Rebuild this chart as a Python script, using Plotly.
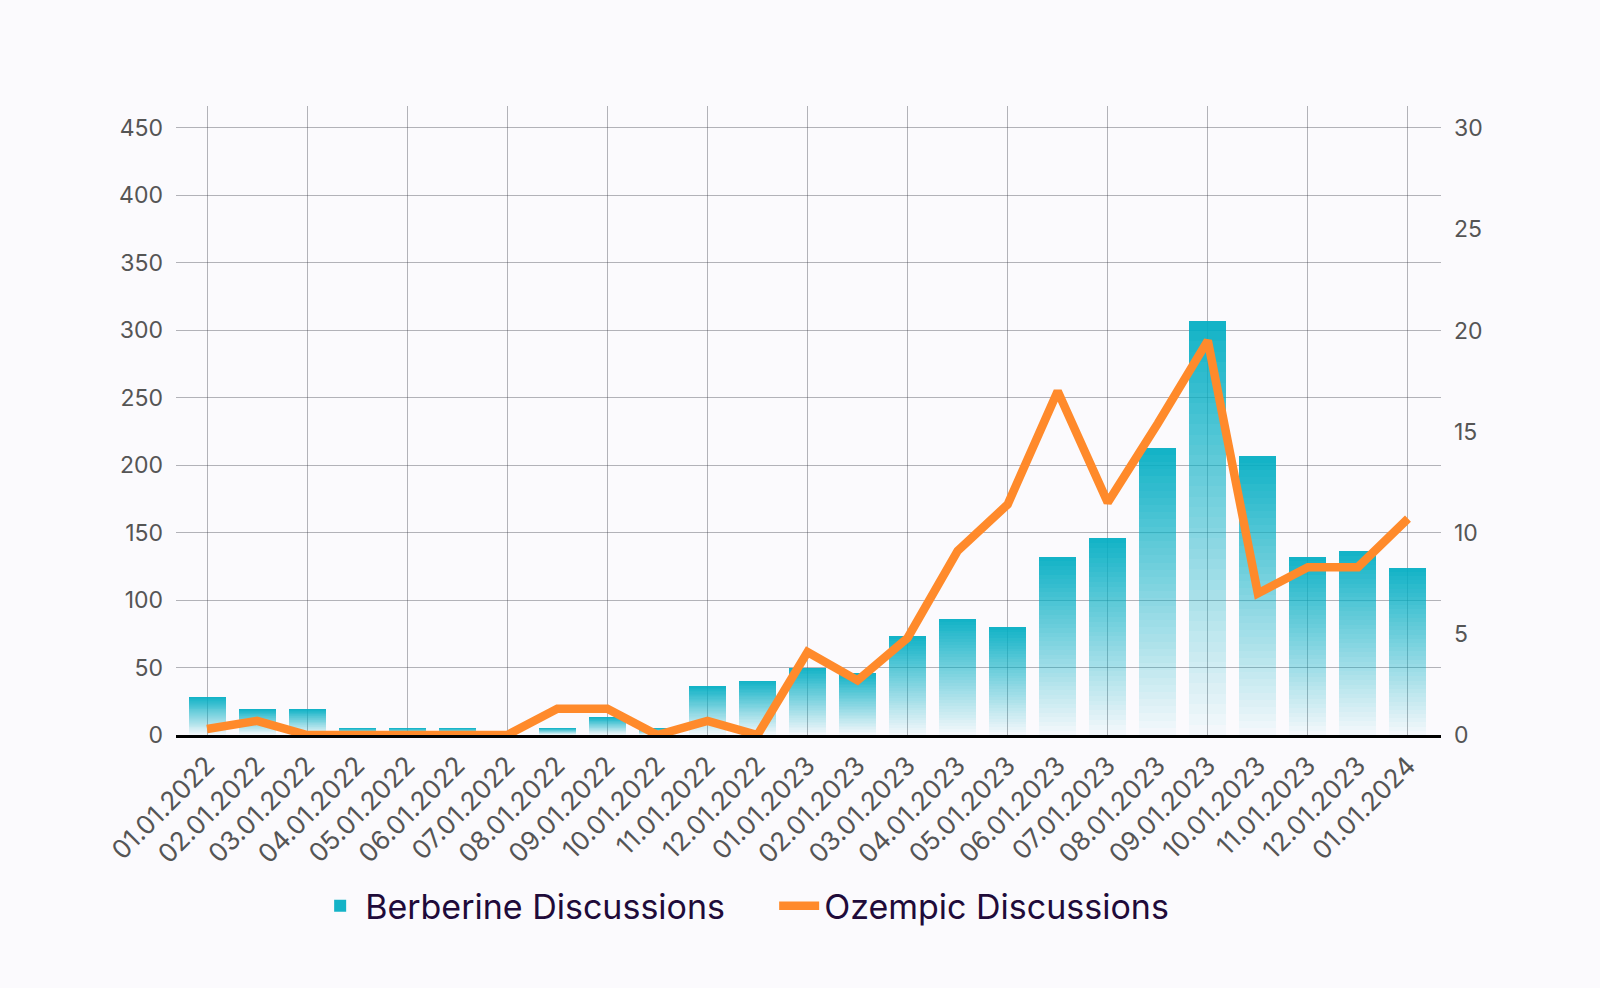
import plotly.graph_objects as go

# month labels as shown on the chart
dates = [
    "01.01.2022", "02.01.2022", "03.01.2022", "04.01.2022", "05.01.2022",
    "06.01.2022", "07.01.2022", "08.01.2022", "09.01.2022", "10.01.2022",
    "11.01.2022", "12.01.2022", "01.01.2023", "02.01.2023", "03.01.2023",
    "04.01.2023", "05.01.2023", "06.01.2023", "07.01.2023", "08.01.2023",
    "09.01.2023", "10.01.2023", "11.01.2023", "12.01.2023", "01.01.2024",
]

# left axis - bars
berberine = [28, 19, 19, 5, 5, 5, 0, 5, 13, 5, 36, 40, 50, 46, 73,
             86, 80, 132, 146, 213, 307, 207, 132, 136, 124]

# right axis - line
ozempic = [0.3, 0.7, 0, 0, 0, 0, 0, 1.3, 1.3, 0, 0.7, 0, 4.1, 2.7, 4.8,
           9.1, 11.4, 17.0, 11.5, 15.4, 19.5, 7.0, 8.3, 8.3, 10.7]

FONT = "Inter"
BG = "#fbfafd"
TEAL = (4, 174, 195)
ORANGE = "#ff8a2b"
GRID = "rgba(60,60,70,0.38)"

idx = list(range(len(dates)))
x_range = [-0.62, 24.66]

fig = go.Figure()

# bars drawn as stacked slices so each bar fades from teal (top) to white (bottom)
n_slices = 40
for k in range(n_slices):
    alpha = 0.02 + 0.93 * ((k + 0.5) / n_slices)
    fig.add_trace(go.Bar(
        x=idx,
        y=[v / n_slices for v in berberine],
        width=0.74,
        marker=dict(color="rgba(%d,%d,%d,%.3f)" % (TEAL + (alpha,)), line=dict(width=0)),
        name="Berberine Discussions",
        legendgroup="berb",
        showlegend=(k == n_slices - 1),
        hoverinfo="skip",
    ))

fig.add_trace(go.Scatter(
    x=idx, y=ozempic, mode="lines", name="Ozempic Discussions",
    line=dict(color=ORANGE, width=8.5),
    xaxis="x2", yaxis="y2",
))

tickfont = dict(family=FONT, size=23, color="#555555")

fig.update_layout(
    width=1600, height=988,
    paper_bgcolor=BG, plot_bgcolor=BG,
    barmode="stack", bargap=0,
    margin=dict(l=176, r=159, t=106, b=253),
    font=dict(family=FONT),
    xaxis=dict(
        range=x_range, tickmode="array", tickvals=idx, ticktext=dates,
        tickangle=-45, tickfont=dict(family=FONT, size=26, color="#555555"),
        showgrid=False, zeroline=False,
        showline=True, linecolor="black", linewidth=3, layer="below traces",
        ticks="", ticklabelstandoff=2,
    ),
    xaxis2=dict(
        range=x_range, overlaying="x", anchor="y2",
        tickmode="linear", tick0=0, dtick=2,
        showticklabels=False, showgrid=True, gridcolor=GRID, gridwidth=1.2,
        zeroline=False, showline=False,
    ),
    yaxis=dict(
        range=[0, 466], tickmode="linear", tick0=0, dtick=50,
        tickfont=tickfont, showgrid=True, gridcolor=GRID, gridwidth=1.2,
        zeroline=False, ticks="", ticklabelstandoff=12,
    ),
    yaxis2=dict(
        range=[0, 31.1], tickmode="linear", tick0=0, dtick=5,
        overlaying="y", side="right", anchor="x2",
        tickfont=tickfont, showgrid=False, zeroline=False, ticks="",
        ticklabelstandoff=12,
    ),
    legend=dict(
        orientation="h", x=0.11, xanchor="left", y=-0.272, yanchor="middle",
        font=dict(family=FONT, size=34, color="#1f0b3a"),
        bgcolor="rgba(0,0,0,0)", itemwidth=40,
        entrywidth=404,
    ),
)

fig.write_html(
    "out.html",
    config={"displayModeBar": False},
    post_script="document.body.style.margin='0';document.body.style.background='%s';" % BG,
)
